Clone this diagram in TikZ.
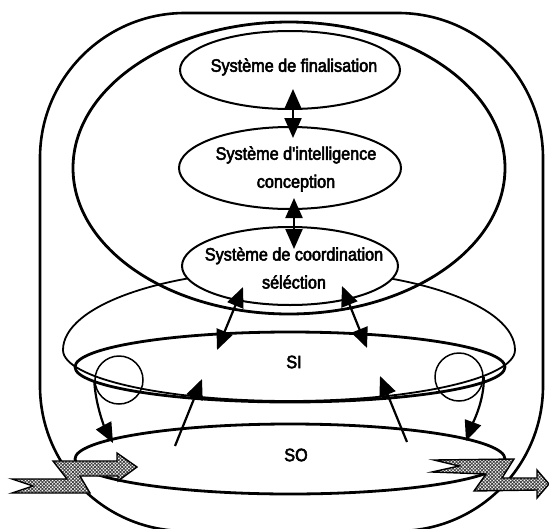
\documentclass[tikz,border=0pt]{standalone}
\usepackage{fontspec}
\setmainfont{Liberation Sans}
\newfontfamily\labelfont[FakeStretch=0.9, FakeBold=3]{Liberation Sans}
\usetikzlibrary{arrows.meta,calc,shapes.geometric,patterns.meta}

\begin{document}
\begin{tikzpicture}[x=1pt,y=-1pt,
  frame/.style={draw, line width=2.6pt},
  bigell/.style={draw, ellipse, line width=2.8pt, inner sep=0pt},
  sysell/.style={draw, ellipse, line width=2pt, inner sep=0pt, fill=white},
  loopell/.style={draw, ellipse, line width=2.8pt, inner sep=0pt, minimum width=430, minimum height=70},
  ring/.style={draw, circle, line width=1.5pt, inner sep=0pt, minimum size=48},
  lbl/.style={font=\labelfont\fontsize{18}{28}\selectfont, align=center, inner sep=0pt},
  headtip/.tip={Triangle[length=20pt,width=17pt]},
  link/.style={line width=2.2pt, -headtip},
  dlink/.style={line width=2.2pt, headtip-headtip},
  bolt/.style={draw, line width=1.4pt, line join=miter, preaction={fill=white},
    pattern={Hatch[angle=45,distance=2.4pt,line width=0.8pt]}, pattern color=black!75}
]
\useasboundingbox (0,0) rectangle (549,528);

% system boundary
\draw[frame, rounded corners=145pt] (40,13) rectangle (543,531);

% decision system envelope
\node[bigell, minimum width=432, minimum height=292] (big) at (289,168) {};

% interface envelope around the information system
\draw[line width=1.8pt] (63,350) arc[start angle=180, end angle=360, x radius=226, y radius=80]
  arc[start angle=0, end angle=180, x radius=226, y radius=51] -- cycle;

% information and operating systems
\node[loopell] (SI) at (290,367) {};
\node[loopell] (SO) at (290,459) {};
\node[lbl] (SItxt) at (294,362) {SI};
\node[lbl] (SOtxt) at (296,455) {SO};

% small regulation loops
\node[ring] (lc) at (119,380) {};
\node[ring] (rc) at (459,377) {};

% the three sub-systems of the decision system
\node[sysell, minimum width=220, minimum height=78] (fin) at (290,70) {};
\node[sysell, minimum width=222, minimum height=82] (intel) at (290,168) {};
\node[sysell, minimum width=216, minimum height=78] (coord) at (290,266) {};
\node[lbl] (fintxt) at (294,67) {Système de finalisation};
\node[lbl] (inteltxt) at (296,169) {Système d'intelligence\\conception};
\node[lbl] (coordtxt) at (294,268) {Système de coordination\\séléction};

% exchanges between the sub-systems
\draw[dlink] ([xshift=3pt,yshift=21pt]fin.south) -- ([xshift=3pt,yshift=-12pt]intel.north);
\draw[dlink] ([xshift=4pt,yshift=12pt]intel.south) -- ([xshift=4pt,yshift=-23pt]coord.north);
\draw[dlink] ($(coord)+(-47,21)$) -- ($(SI)+(-73,-17)$);
\draw[dlink] ($(coord)+(52,20)$) -- ($(SI)+(77,-19)$);

% operating system reporting to the information system
\draw[link] ($(SO)+(-115,-13)$) -- ($(SI)+(-88,12)$);
\draw[link] ($(SO)+(117,-17)$) -- ($(SI)+(90,9)$);

% loops acting on the operating system
\draw[link] (lc.west) .. controls ($(lc.west)+(1,25)$) and ($(SO)+(-185,-31)$) .. ($(SO)+(-177,-16)$);
\draw[link] (rc.east) .. controls ($(rc.east)+(1,23)$) and ($(SO)+(182,-34)$) .. ($(SO)+(176,-18)$);

% flows entering and leaving the system
\draw[bolt] (12,479) -- (67,479) -- (53,461) -- (117,461) -- (117,453) -- (137,467)
  -- (118,481) -- (118,476) -- (80,476) -- (90,493) -- (12,493) -- (33,486) -- cycle;
\draw[bolt] (434,460) -- (514,459) -- (502,478) -- (537,478) -- (537,470) -- (549,484)
  -- (537,498) -- (537,490) -- (474,491) -- (486,474) -- (432,472) -- (459,466) -- cycle;
\end{tikzpicture}
\end{document}
